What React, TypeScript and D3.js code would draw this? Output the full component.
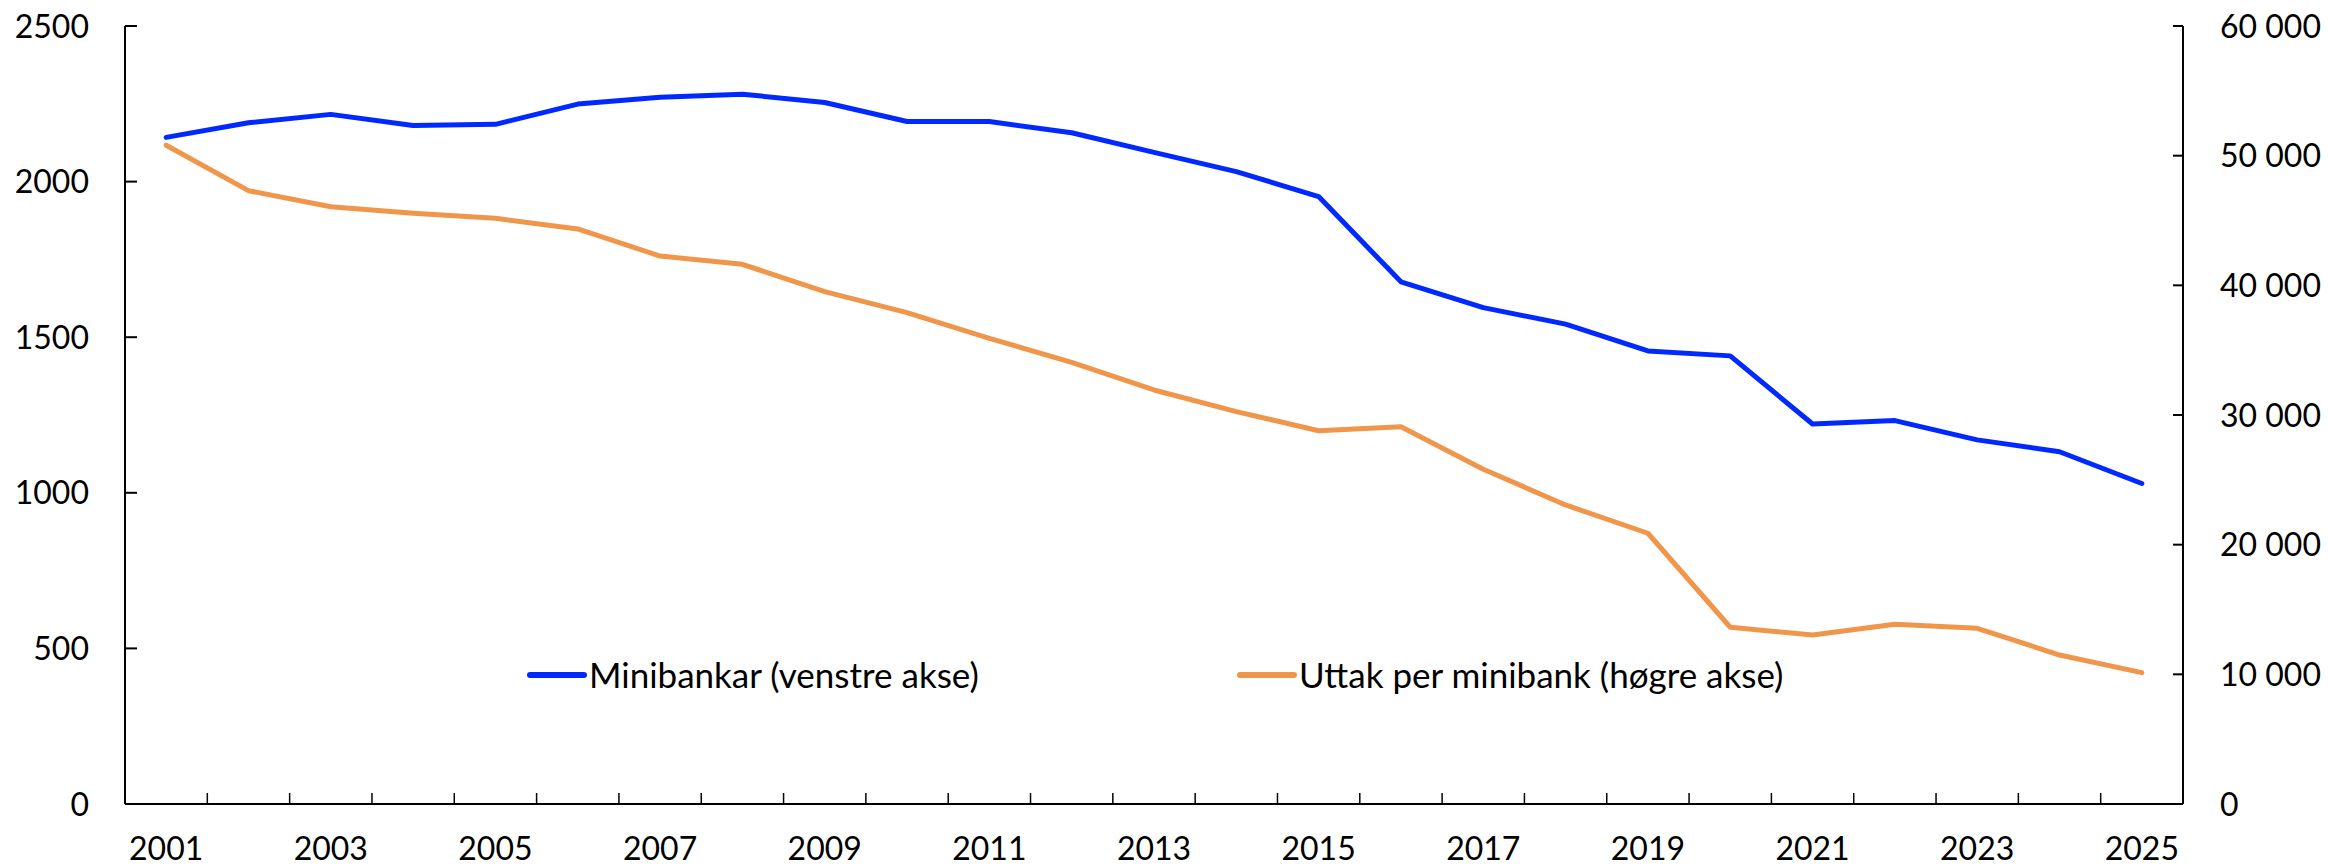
import React, { useRef, useEffect } from "react";
import * as d3 from "d3";

const years = [
  2001, 2002, 2003, 2004, 2005, 2006, 2007, 2008, 2009, 2010, 2011, 2012, 2013,
  2014, 2015, 2016, 2017, 2018, 2019, 2020, 2021, 2022, 2023, 2024, 2025,
];

// number of ATMs (left axis)
const minibankar = [
  2142, 2189, 2216, 2180, 2184, 2249, 2271, 2281, 2254, 2193, 2193, 2157, 2094,
  2032, 1952, 1678, 1595, 1542, 1456, 1440, 1221, 1232, 1170, 1132, 1030,
];

// withdrawals per ATM (right axis)
const uttakPerMinibank = [
  50800, 47300, 46065, 45555, 45170, 44345, 42260, 41620, 39510, 37890, 35910,
  34060, 31930, 30260, 28790, 29100, 25810, 23060, 20880, 13630, 13030, 13860,
  13550, 11490, 10130,
];

const leftTicks = [0, 500, 1000, 1500, 2000, 2500];
const rightTicks = [0, 10000, 20000, 30000, 40000, 50000, 60000];
const xLabelYears = years.filter((y, i) => i % 2 === 0);

const seriesNames = ["Minibankar (venstre akse)", "Uttak per minibank (høgre akse)"];
const BLUE = "#0029ff";
const ORANGE = "#f0964b";

const App = () => {
  const svgRef = useRef<SVGSVGElement>(null);

  useEffect(() => {
    const svg = d3.select(svgRef.current);
    svg.selectAll("*").remove();

    const width = 2329;
    const height = 868;
    const margin = { top: 26, right: 146, bottom: 64, left: 125 };
    const font = "Lato, 'Noto Sans', sans-serif";
    const fontSize = 32;

    const x = d3
      .scaleBand<number>()
      .domain(years)
      .range([margin.left, width - margin.right])
      .padding(0);
    const cx = (yr: number) => (x(yr) as number) + x.bandwidth() / 2;

    const yL = d3
      .scaleLinear()
      .domain([0, 2500])
      .range([height - margin.bottom, margin.top]);
    const yR = d3
      .scaleLinear()
      .domain([0, 60000])
      .range([height - margin.bottom, margin.top]);

    const x0 = margin.left;
    const x1 = width - margin.right;
    const yb = height - margin.bottom;

    const fmtR = (v: number) =>
      d3.format(",")(v).replace(/,/g, "\u00a0");

    // left axis
    const gl = svg.append("g");
    gl.append("line")
      .attr("x1", x0).attr("x2", x0)
      .attr("y1", yL(2500)).attr("y2", yb)
      .attr("stroke", "#000").attr("stroke-width", 2);
    gl.selectAll("line.tick")
      .data(leftTicks)
      .join("line")
      .attr("class", "tick")
      .attr("x1", x0).attr("x2", x0 + 12)
      .attr("y1", (d) => yL(d)).attr("y2", (d) => yL(d))
      .attr("stroke", "#000").attr("stroke-width", 2);
    gl.selectAll("text")
      .data(leftTicks)
      .join("text")
      .attr("x", 89)
      .attr("y", (d) => yL(d))
      .attr("dy", "0.36em")
      .attr("text-anchor", "end")
      .attr("font-family", font)
      .attr("font-size", fontSize)
      .attr("fill", "#000")
      .text((d) => String(d));

    // right axis
    const gr = svg.append("g");
    gr.append("line")
      .attr("x1", x1).attr("x2", x1)
      .attr("y1", yR(60000)).attr("y2", yb)
      .attr("stroke", "#000").attr("stroke-width", 2);
    gr.selectAll("line.tick")
      .data(rightTicks)
      .join("line")
      .attr("class", "tick")
      .attr("x1", x1 - 10).attr("x2", x1)
      .attr("y1", (d) => yR(d)).attr("y2", (d) => yR(d))
      .attr("stroke", "#000").attr("stroke-width", 2);
    gr.selectAll("text")
      .data(rightTicks)
      .join("text")
      .attr("x", 2220)
      .attr("y", (d) => yR(d))
      .attr("dy", "0.36em")
      .attr("text-anchor", "start")
      .attr("font-family", font)
      .attr("font-size", fontSize)
      .attr("fill", "#000")
      .text((d) => fmtR(d));

    // bottom axis
    const gb = svg.append("g");
    gb.append("line")
      .attr("x1", x0).attr("x2", x1)
      .attr("y1", yb).attr("y2", yb)
      .attr("stroke", "#000").attr("stroke-width", 2);
    gb.selectAll("line.tick")
      .data(years.slice(1))
      .join("line")
      .attr("class", "tick")
      .attr("x1", (d) => x(d) as number).attr("x2", (d) => x(d) as number)
      .attr("y1", yb - 11).attr("y2", yb)
      .attr("stroke", "#000").attr("stroke-width", 1.5);
    gb.selectAll("text")
      .data(xLabelYears)
      .join("text")
      .attr("x", (d) => cx(d))
      .attr("y", 860)
      .attr("text-anchor", "middle")
      .attr("font-family", font)
      .attr("font-size", fontSize)
      .attr("fill", "#000")
      .text((d) => String(d));

    // lines
    const lineL = d3
      .line<number>()
      .x((d, i) => cx(years[i]))
      .y((d) => yL(d));
    const lineR = d3
      .line<number>()
      .x((d, i) => cx(years[i]))
      .y((d) => yR(d));

    svg.append("path")
      .datum(uttakPerMinibank)
      .attr("fill", "none")
      .attr("stroke", ORANGE)
      .attr("stroke-width", 5)
      .attr("stroke-linejoin", "round")
      .attr("stroke-linecap", "round")
      .attr("d", lineR);

    svg.append("path")
      .datum(minibankar)
      .attr("fill", "none")
      .attr("stroke", BLUE)
      .attr("stroke-width", 5)
      .attr("stroke-linejoin", "round")
      .attr("stroke-linecap", "round")
      .attr("d", lineL);

    // legend
    const legendItems = [
      { name: seriesNames[0], color: BLUE, x: 530 },
      { name: seriesNames[1], color: ORANGE, x: 1240 },
    ];
    const lg = svg.append("g");
    legendItems.forEach((it) => {
      lg.append("line")
        .attr("x1", it.x).attr("x2", it.x + 54)
        .attr("y1", 675).attr("y2", 675)
        .attr("stroke", it.color)
        .attr("stroke-width", 6)
        .attr("stroke-linecap", "round");
      lg.append("text")
        .attr("x", it.x + 59)
        .attr("y", 675)
        .attr("dy", "0.36em")
        .attr("font-family", font)
        .attr("font-size", 35)
        .attr("fill", "#000")
        .text(it.name);
    });
  }, []);

  return (
    <svg
      ref={svgRef}
      width={2329}
      height={868}
      style={{ position: "absolute", left: 0, top: 0, background: "#fff" }}
    ></svg>
  );
};

export default App;
